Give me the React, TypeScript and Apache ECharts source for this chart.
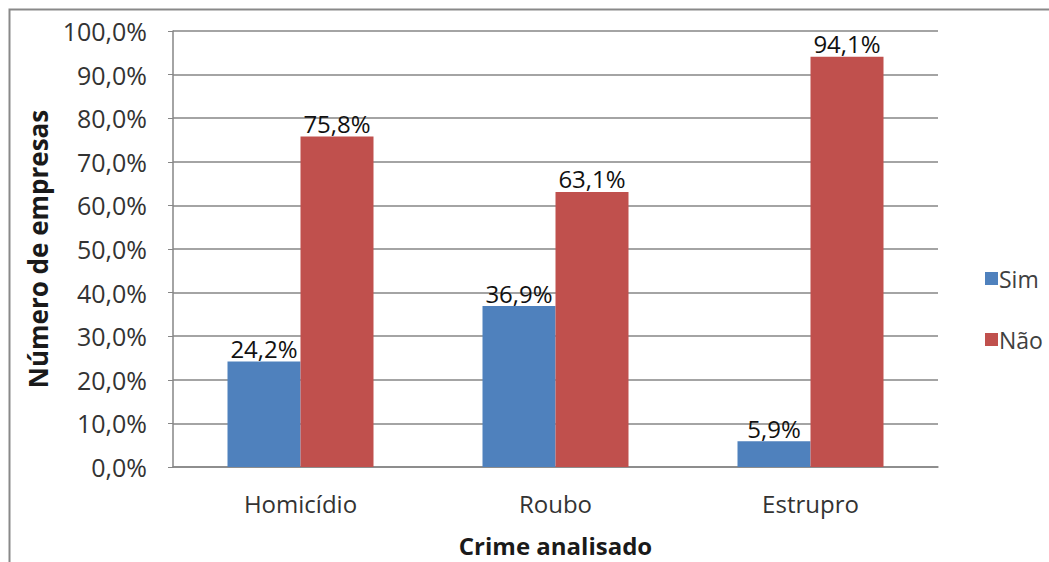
import React, { useEffect, useRef } from "react";
import * as echarts from "echarts";

const categories = ["Homicídio", "Roubo", "Estrupro"];
const simValues = [24.2, 36.9, 5.9];
const naoValues = [75.8, 63.1, 94.1];
const seriesNames = ["Sim", "Não"];
const yAxisTitle = "Número de empresas";
const xAxisTitle = "Crime analisado";

const fmt = (v: number) => v.toFixed(1).replace(".", ",") + "%";
const FONT = "'Open Sans', 'Noto Sans', sans-serif";

export default function App() {
  const ref = useRef<HTMLDivElement>(null);
  useEffect(() => {
    if (!ref.current) return;
    const chart = echarts.init(ref.current, null, { renderer: "svg" });
    const labelCfg = {
      show: true,
      position: "top" as const,
      distance: 1,
      formatter: (p: any) => fmt(p.value),
      color: "#111",
      fontSize: 24,
      fontFamily: FONT,
    };
    chart.setOption({
      animation: false,
      backgroundColor: "#fff",
      textStyle: { fontFamily: FONT },
      grid: {
        left: 173,
        top: 31,
        width: 765,
        height: 436,
        containLabel: false,
        outerBoundsMode: "none",
      },
      legend: {
        orient: "vertical",
        left: 980,
        top: 262,
        itemGap: 38,
        itemWidth: 13,
        itemHeight: 13,
        icon: "rect",
        data: seriesNames,
        textStyle: { fontSize: 23, color: "#404040", fontFamily: FONT, padding: [0, 0, 0, -4] },
      },
      xAxis: {
        type: "category",
        data: categories,
        name: xAxisTitle,
        nameLocation: "middle",
        nameGap: 66,
        nameTextStyle: { fontSize: 24, fontWeight: "bold", color: "#1a1a1a", fontFamily: FONT },
        axisLine: { lineStyle: { color: "#868686", width: 1.5 } },
        axisTick: { show: false },
        axisLabel: { fontSize: 24, color: "#333", margin: 24, fontFamily: FONT },
      },
      yAxis: {
        type: "value",
        min: 0,
        max: 100,
        interval: 10,
        name: yAxisTitle,
        nameLocation: "middle",
        nameGap: 122,
        nameTextStyle: { fontSize: 26, fontWeight: "bold", color: "#1a1a1a", fontFamily: FONT },
        axisLine: { show: true, lineStyle: { color: "#868686", width: 1.5 } },
        axisTick: { show: true, length: 5, lineStyle: { color: "#868686" } },
        axisLabel: { fontSize: 25, color: "#333", margin: 26, formatter: (v: number) => fmt(v), fontFamily: FONT },
        splitLine: { lineStyle: { color: "#868686", width: 1.5 } },
      },
      series: [
        {
          name: seriesNames[0],
          type: "bar",
          data: simValues,
          barWidth: 73,
          barGap: "0%",
          itemStyle: { color: "#4F81BD" },
          label: labelCfg,
        },
        {
          name: seriesNames[1],
          type: "bar",
          data: naoValues,
          barWidth: 73,
          barGap: "0%",
          itemStyle: { color: "#C0504D" },
          label: labelCfg,
        },
      ],
      graphic: [
        {
          type: "rect",
          shape: { x: 9.5, y: 9.5, width: 1060, height: 600 },
          style: { fill: "none", stroke: "#898989", lineWidth: 2 },
          silent: true,
        },
      ],
    });
    return () => chart.dispose();
  }, []);
  return (
    <div
      ref={ref}
      style={{ position: "fixed", left: 0, top: 0, width: 1049, height: 562, background: "#fff" }}
    />
  );
}
